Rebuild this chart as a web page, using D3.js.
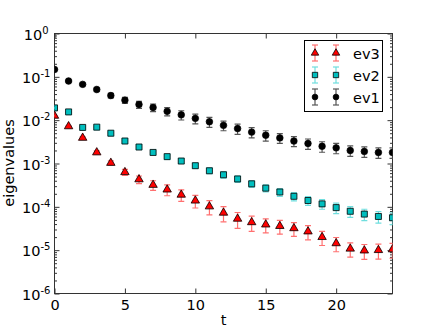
<!DOCTYPE html>
<html>
<head>
<meta charset="utf-8">
<script src="https://cdn.jsdelivr.net/npm/d3@7"></script>
<style>
  body { margin: 0; background: #fff; }
  svg { display: block; font-family: "DejaVu Sans", sans-serif; }
</style>
</head>
<body>
<svg width="436" height="327"></svg>
<script>
// time slices
var t = [0, 1, 2, 3, 4, 5, 6, 7, 8, 9, 10, 11, 12, 13, 14, 15, 16, 17, 18, 19, 20, 21, 22, 23, 24];

var ev1 = [0.148, 0.080, 0.067, 0.051, 0.037, 0.029, 0.023, 0.0196, 0.016, 0.0133, 0.011, 0.0092, 0.0076,
  0.0064, 0.0053, 0.0045, 0.0039, 0.0033, 0.0029, 0.0025, 0.0023, 0.0020, 0.0019, 0.0018, 0.0018];
var err1 = [0.003, 0.003, 0.004, 0.004, 0.0045, 0.0045, 0.0042, 0.0039, 0.0035, 0.0032, 0.0028, 0.0024, 0.0019,
  0.0017, 0.0014, 0.0012, 0.001, 0.00086, 0.00078, 0.00068, 0.00062, 0.00054, 0.00051, 0.00049, 0.00049];

var ev2 = [0.0192, 0.0155, 0.0068, 0.0069, 0.0050, 0.0033, 0.0024, 0.0018, 0.00144, 0.00114, 0.00089, 0.00068,
  0.00055, 0.00044, 0.00034, 0.00027, 0.00022, 0.000175, 0.00014, 0.000117, 0.000096, 0.000079, 0.000068,
  0.000060, 0.000056];
var err2 = [0.0004, 0.0003, 0.0002, 0.0002, 0.0002, 0.00017, 0.00017, 0.00016, 0.00014, 0.00013, 0.00012, 0.0001,
  0.00009, 0.000075, 0.00006, 0.00005, 0.000045, 0.000038, 0.000032, 0.000029, 0.000026, 0.000022, 0.00002,
  0.000018, 0.000017];

var ev3 = [0.0126, 0.0072, 0.0039, 0.0018, 0.00103, 0.00063, 0.00043, 0.00032, 0.00025, 0.00019, 0.000139,
  0.000102, 0.000073, 0.000053, 0.000044, 0.000039, 0.000036, 0.000032, 0.000027, 0.000020, 0.0000144,
  0.0000108, 0.0000098, 0.0000100, 0.0000104];
var err3 = [0.0003, 0.0002, 0.0002, 0.00015, 0.00012, 0.0001, 0.000085, 0.00008, 0.00007, 0.000057, 0.000045,
  0.000037, 0.000028, 0.000021, 0.000017, 0.000014, 0.0000126, 0.0000112, 0.0000097, 0.0000072, 0.0000052,
  0.0000039, 0.0000037, 0.0000038, 0.0000039];

var xTicks = [0, 5, 10, 15, 20];
var yExps = [0, -1, -2, -3, -4, -5, -6];

var series = [
  {name: 'ev3', vals: ev3, errs: err3, color: '#ff0000', bar: '#ff7070', shape: d3.symbolTriangle, size: 30},
  {name: 'ev2', vals: ev2, errs: err2, color: '#00bfbf', bar: '#70dede', shape: d3.symbolSquare, size: 36},
  {name: 'ev1', vals: ev1, errs: err1, color: '#000000', bar: '#555555', shape: d3.symbolCircle, size: 32}
];

var svg = d3.select('svg');
var L = 54.5, R = 392.5, T = 33.5, B = 293.5;

var x = d3.scaleLinear().domain([0, 24]).range([L, R]);
var y = d3.scaleLog().domain([1e-6, 1]).range([B, T]);

svg.append('clipPath').attr('id', 'clip')
   .append('rect').attr('x', L).attr('y', T).attr('width', R - L).attr('height', B - T);

// minor log ticks
var minor = [];
yExps.forEach(function(e){
  if (e === 0) return;
  for (var k = 2; k <= 9; k++) minor.push(k * Math.pow(10, e));
});

var axisColor = '#333';

// bottom and top axes
svg.append('g').attr('transform', 'translate(0,' + B + ')')
   .call(d3.axisBottom(x).tickValues(xTicks).tickSize(-5).tickPadding(6))
   .call(function(g){ g.select('.domain').remove(); });
svg.append('g').attr('transform', 'translate(0,' + T + ')')
   .call(d3.axisTop(x).tickValues(xTicks).tickSize(-5).tickFormat(''))
   .call(function(g){ g.select('.domain').remove(); });

// left and right axes
var yMajor = yExps.map(function(e){ return Math.pow(10, e); });
[[L, d3.axisLeft], [R, d3.axisRight]].forEach(function(p){
  svg.append('g').attr('transform', 'translate(' + p[0] + ',0)')
     .call(p[1](y).tickValues(yMajor).tickSize(-5).tickFormat(''))
     .call(function(g){ g.select('.domain').remove(); });
  svg.append('g').attr('transform', 'translate(' + p[0] + ',0)')
     .call(p[1](y).tickValues(minor).tickSize(-2.5).tickFormat(''))
     .call(function(g){ g.select('.domain').remove(); });
});

svg.selectAll('.tick line').attr('stroke', axisColor);
svg.selectAll('.tick text').attr('font-size', 14.5).attr('font-family', 'DejaVu Sans').attr('fill', '#000');

// y tick labels with exponents
var yl = svg.append('g').selectAll('text').data(yExps).enter().append('text')
  .attr('y', function(d){ return y(Math.pow(10, d)) + 6; })
  .attr('text-anchor', 'end')
  .attr('font-size', 14.5);
yl.append('tspan').text('10');
yl.append('tspan').attr('dy', -6).attr('font-size', 10).text(function(d){ return d; });
yl.attr('x', function(d){ return d < 0 ? 50.5 : 48.5; });

// frame
svg.append('rect').attr('x', L).attr('y', T).attr('width', R - L).attr('height', B - T)
   .attr('fill', 'none').attr('stroke', axisColor).attr('stroke-width', 1);

// data
var plot = svg.append('g').attr('clip-path', 'url(#clip)');
series.forEach(function(s){
  var pts = t.map(function(d, i){ return {t: d, v: s.vals[i], e: s.errs[i]}; });
  var g = plot.append('g');
  var eb = g.selectAll('g.eb').data(pts).enter().append('g')
            .attr('stroke', s.bar).attr('stroke-width', 1.2);
  eb.append('line')
    .attr('x1', function(d){ return x(d.t); }).attr('x2', function(d){ return x(d.t); })
    .attr('y1', function(d){ return y(d.v + d.e); }).attr('y2', function(d){ return y(d.v - d.e); });
  eb.append('line')
    .attr('x1', function(d){ return x(d.t) - 3; }).attr('x2', function(d){ return x(d.t) + 3; })
    .attr('y1', function(d){ return y(d.v + d.e); }).attr('y2', function(d){ return y(d.v + d.e); });
  eb.append('line')
    .attr('x1', function(d){ return x(d.t) - 3; }).attr('x2', function(d){ return x(d.t) + 3; })
    .attr('y1', function(d){ return y(d.v - d.e); }).attr('y2', function(d){ return y(d.v - d.e); });
  g.selectAll('path.halo').data(pts).enter().append('path')
    .attr('d', d3.symbol().type(s.shape).size(s.size * 1.5))
    .attr('transform', function(d){ return 'translate(' + x(d.t) + ',' + y(d.v) + ')'; })
    .attr('fill', s.bar).attr('opacity', 0.25);
  g.selectAll('path.mk').data(pts).enter().append('path')
    .attr('d', d3.symbol().type(s.shape).size(s.size))
    .attr('transform', function(d){ return 'translate(' + x(d.t) + ',' + y(d.v) + ')'; })
    .attr('fill', s.color).attr('stroke', '#000').attr('stroke-width', 0.8);
});

// legend
var lg = svg.append('g');
lg.append('rect').attr('x', 304.5).attr('y', 40.5).attr('width', 78).attr('height', 71)
  .attr('fill', '#fff').attr('stroke', '#000').attr('stroke-width', 1);
series.forEach(function(s, i){
  var cy = 53 + i * 22;
  [315, 336].forEach(function(cx){
    var g = lg.append('g').attr('stroke', s.bar).attr('stroke-width', 1.2);
    g.append('line').attr('x1', cx).attr('x2', cx).attr('y1', cy - 8).attr('y2', cy + 8);
    g.append('line').attr('x1', cx - 3).attr('x2', cx + 3).attr('y1', cy - 8).attr('y2', cy - 8);
    g.append('line').attr('x1', cx - 3).attr('x2', cx + 3).attr('y1', cy + 8).attr('y2', cy + 8);
    lg.append('path').attr('d', d3.symbol().type(s.shape).size(s.size * 0.8)())
      .attr('transform', 'translate(' + cx + ',' + cy + ')')
      .attr('fill', s.color).attr('stroke', '#000').attr('stroke-width', 0.8);
  });
  lg.append('text').attr('x', 353).attr('y', cy + 5.5).attr('font-size', 14.5).text(s.name);
});

// axis labels
svg.append('text').attr('x', (L + R) / 2).attr('y', 325).attr('text-anchor', 'middle')
   .attr('font-size', 14.5).text('t');
svg.append('text').attr('transform', 'translate(14,163) rotate(-90)').attr('text-anchor', 'middle')
   .attr('font-size', 14.5).text('eigenvalues');
</script>
</body>
</html>
